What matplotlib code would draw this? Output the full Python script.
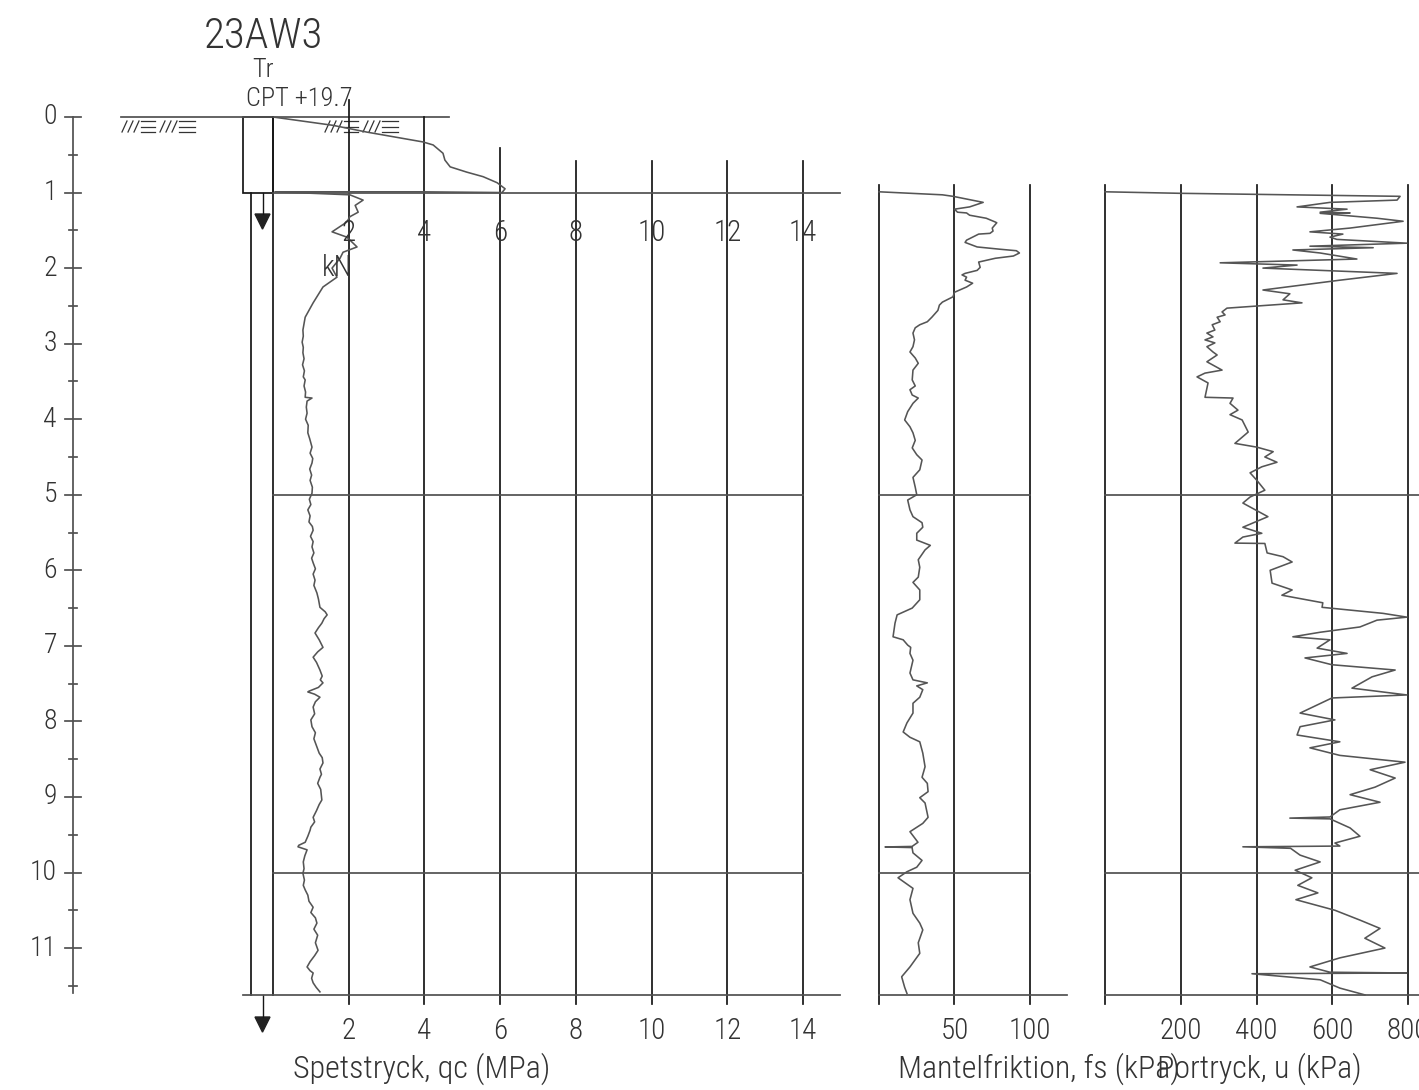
import matplotlib
matplotlib.use("Agg")
import matplotlib.pyplot as plt
from matplotlib import font_manager
from matplotlib.patches import Polygon, Rectangle

# ---------------- sounding data ----------------
title = "23AW3"
method_label = "Tr"
level_label = "CPT +19.7"

depth_ticks = list(range(0, 12))
qc_ticks = [2, 4, 6, 8, 10, 12, 14]
fs_ticks = [50, 100]
u_ticks = [200, 400, 600, 800]

# Cone resistance qc (MPa) versus depth (m)
qc_depth = [0.00, 0.11, 0.20, 0.33, 0.37, 0.48, 0.57, 0.66, 0.73, 0.79, 0.87, 0.95,
            1.00, 0.99, 0.99, 1.03, 1.10, 1.17, 1.26, 1.32, 1.39, 1.52, 1.59, 1.72,
            1.79, 1.87, 2.00, 2.12, 2.25, 2.46, 2.65,
            2.82, 2.90, 2.98, 3.05, 3.12, 3.20, 3.28, 3.36, 3.44, 3.48, 3.56, 3.64,
            3.71, 3.72, 3.76, 3.84, 3.92, 4.00, 4.08, 4.18, 4.26, 4.37, 4.45, 4.52,
            4.58, 4.66, 4.74, 4.81, 4.90, 4.98, 5.06, 5.13, 5.20, 5.28, 5.36, 5.42,
            5.47, 5.55, 5.62, 5.69, 5.77, 5.84, 5.90, 5.98, 6.05, 6.13, 6.20, 6.30,
            6.38, 6.49, 6.55, 6.59, 6.64, 6.70, 6.76, 6.83, 6.92, 7.02, 7.08, 7.15,
            7.22, 7.32, 7.40, 7.45, 7.49, 7.55, 7.60, 7.61, 7.64, 7.68, 7.74, 7.81,
            7.90, 7.98, 8.07, 8.15, 8.23, 8.34, 8.42, 8.48, 8.55, 8.63, 8.70, 8.74,
            8.82, 8.90, 9.04, 9.10, 9.18, 9.27, 9.33, 9.40, 9.44, 9.52, 9.60, 9.64,
            9.66, 9.70, 9.78, 9.86, 9.95, 10.01, 10.10, 10.17, 10.23, 10.30, 10.38,
            10.46, 10.53, 10.60, 10.67, 10.75, 10.83, 10.93, 11.03, 11.10, 11.18,
            11.25, 11.30, 11.33, 11.40, 11.46, 11.52, 11.58]
qc_mpa = [0.00, 1.58, 2.48, 3.96, 4.23, 4.49, 4.54, 4.68, 5.12, 5.55, 5.92, 6.13,
          6.05, 3.88, 0.05, 2.03, 2.38, 2.17, 2.25, 2.03, 1.95, 1.56, 1.95, 2.22,
          1.85, 1.77, 1.56, 1.69, 1.32, 1.06, 0.85,
          0.79, 0.80, 0.77, 0.80, 0.79, 0.82, 0.78, 0.83, 0.80, 0.85, 0.82, 0.86,
          0.85, 1.03, 0.90, 0.88, 0.90, 0.86, 0.93, 0.92, 0.97, 1.03, 0.98, 1.05,
          1.03, 0.97, 1.02, 0.98, 1.04, 1.03, 0.96, 1.00, 0.92, 0.98, 0.95, 1.04,
          1.06, 0.99, 1.06, 1.03, 1.08, 1.02, 1.06, 1.12, 1.06, 1.11, 1.08, 1.16,
          1.20, 1.24, 1.38, 1.43, 1.35, 1.29, 1.20, 1.11, 1.22, 1.32, 1.18, 1.06,
          1.15, 1.24, 1.30, 1.25, 1.32, 1.20, 0.95, 0.92, 1.10, 1.24, 1.12, 1.06,
          1.10, 1.00, 1.03, 1.12, 1.08, 1.16, 1.22, 1.30, 1.32, 1.24, 1.28, 1.24,
          1.18, 1.26, 1.29, 1.22, 1.15, 1.06, 1.10, 1.00, 0.98, 0.92, 0.85, 0.68,
          0.66, 0.90, 0.84, 0.80, 0.82, 0.79, 0.83, 0.80, 0.85, 0.92, 0.95,
          1.06, 1.00, 1.12, 1.16, 1.08, 1.18, 1.12, 1.19, 1.10, 0.98,
          0.90, 0.98, 1.06, 1.02, 1.06, 1.14, 1.24]

# Sleeve friction fs (kPa) versus depth (m)
fs_depth = [0.99, 1.03, 1.05, 1.13, 1.19, 1.22, 1.26, 1.27, 1.30, 1.34, 1.39, 1.40,
            1.47, 1.51, 1.54, 1.55, 1.63, 1.66, 1.72, 1.75, 1.77, 1.80, 1.84, 1.87,
            1.92, 1.99, 2.03, 2.07, 2.09, 2.12, 2.16, 2.20, 2.25, 2.32, 2.38, 2.45,
            2.49, 2.56, 2.65, 2.71, 2.75, 2.79, 2.86, 2.95, 3.04, 3.11, 3.19, 3.26,
            3.35, 3.48, 3.56, 3.61, 3.68, 3.72, 3.79, 3.90, 4.01, 4.10, 4.18, 4.28,
            4.38, 4.47, 4.54, 4.67, 4.77, 4.90, 5.00, 5.07, 5.20, 5.29, 5.37, 5.43,
            5.51, 5.60, 5.67, 5.73, 5.86, 5.96, 6.09, 6.16, 6.26, 6.39, 6.50, 6.59,
            6.70, 6.88, 6.92, 6.99, 7.02, 7.10, 7.19, 7.36, 7.45, 7.49, 7.53, 7.58,
            7.68, 7.76, 7.89, 8.02, 8.14, 8.21, 8.27, 8.42, 8.60, 8.74, 8.82, 8.93,
            9.01, 9.08, 9.27, 9.35, 9.46, 9.60, 9.655, 9.662, 9.67, 9.74, 9.84, 9.93,
            9.99, 10.07, 10.21, 10.36, 10.54, 10.67, 10.76, 10.93, 11.07, 11.25,
            11.38, 11.52, 11.60]
fs_kpa = [0.0, 42.0, 49.0, 69.0, 60.0, 50.0, 52.0, 58.0, 60.0, 71.0, 77.0, 78.0,
          75.0, 75.5, 73.5, 66.0, 58.0, 57.0, 65.0, 80.0, 91.0, 93.0, 89.0, 77.0,
          66.0, 67.0, 65.0, 57.0, 55.0, 58.0, 57.0, 62.0, 58.0, 50.0, 49.0, 42.0,
          40.0, 39.0, 35.0, 32.0, 27.0, 24.0, 22.5, 23.5, 22.5, 20.5, 24.0, 26.0,
          22.5, 22.0, 24.0, 20.5, 22.0, 26.0, 22.5, 19.0, 17.0, 20.5, 22.5, 24.0,
          22.0, 25.0, 28.5, 27.0, 22.5, 24.0, 25.0, 19.0, 20.5, 22.5, 28.5, 29.0,
          25.0, 25.0, 34.0, 30.5, 26.0, 27.0, 26.0, 22.5, 27.0, 27.0, 22.0, 12.0,
          10.6, 9.3, 16.0, 19.0, 21.0, 20.5, 22.5, 20.5, 22.5, 32.0, 25.0, 29.0,
          27.0, 22.5, 22.5, 18.5, 16.0, 20.5, 27.0, 29.0, 30.5, 28.5, 32.0, 32.5,
          27.0, 30.5, 32.5, 29.0, 20.5, 25.8, 21.9, 4.0, 21.9, 22.5, 28.5, 25.0,
          18.5, 12.6, 22.5, 20.5, 22.5, 27.0, 29.0, 26.0, 27.0, 20.5,
          15.0, 17.0, 18.5]

# Pore pressure u (kPa) versus depth (m)
u_depth = [0.99, 1.01, 1.05, 1.10, 1.13, 1.19, 1.22, 1.26, 1.27, 1.275, 1.34, 1.38,
           1.47, 1.52, 1.55, 1.59, 1.62, 1.67, 1.71, 1.73, 1.76, 1.80, 1.88, 1.93,
           1.96, 2.00, 2.07, 2.16, 2.29, 2.34, 2.42, 2.46,
           2.53, 2.58, 2.62, 2.65, 2.71, 2.75, 2.82, 2.86, 2.91, 2.95, 2.99, 3.04,
           3.11, 3.15, 3.24, 3.35, 3.39, 3.44, 3.52, 3.71, 3.72, 3.79, 3.88,
           3.94, 4.01, 4.17, 4.32, 4.37, 4.43, 4.50, 4.57, 4.63, 4.71, 4.81, 4.94,
           5.03, 5.11, 5.29, 5.43, 5.51, 5.56, 5.64, 5.645, 5.77, 5.82, 5.89, 6.00,
           6.17, 6.26, 6.33, 6.43, 6.49, 6.57, 6.62, 6.66, 6.75, 6.82, 6.88, 6.92,
           7.03, 7.10, 7.16, 7.25, 7.32, 7.41, 7.56, 7.65, 7.69, 7.89, 7.98, 8.07,
           8.18, 8.27, 8.35, 8.45, 8.54, 8.64, 8.75, 8.87, 8.97, 9.07, 9.17, 9.265,
           9.28, 9.29, 9.41, 9.52, 9.61, 9.65, 9.66, 9.68, 9.77, 9.86, 9.97, 10.07,
           10.17, 10.27, 10.36, 10.50, 10.63, 10.74, 10.87, 11.00, 11.13, 11.25,
           11.32, 11.33, 11.34, 11.42, 11.53, 11.62]
u_kpa = [0, 198, 779, 771, 594, 507, 639, 568, 647, 568, 718, 787,
         647, 541, 628, 594, 612, 797, 541, 708, 496, 568, 665, 304,
         507, 417, 771, 620, 417, 488, 470, 520,
         322, 309, 317, 296, 304, 283, 290, 269, 285, 264, 290, 269,
         285, 296, 269, 309, 264, 243, 272, 264, 338, 330, 351,
         330, 362, 378, 343, 401, 444, 422, 454, 414, 383, 401, 422,
         383, 364, 430, 364, 414, 364, 343, 422, 428, 470, 494, 436,
         441, 494, 467, 575, 573, 734, 797, 718, 673, 568, 496, 594,
         560, 639, 528, 599, 766, 705, 652, 797, 599, 515, 607, 515,
         507, 620, 541, 620, 792, 700, 766, 713, 647, 726, 620, 594,
         488, 594, 647, 673, 607, 620, 364, 490, 515, 568, 502, 546,
         509, 562, 504, 607, 673, 726, 686, 739, 620, 541,
         594, 797, 388, 568, 620, 686]

# ---------------- page geometry ----------------
W, H, DPI = 1419, 1090, 100
Y0 = 117.0          # pixel row of the ground surface (depth 0 m)
PX_PER_M = 75.55    # vertical scale
D_BOT = 11.62       # bottom of the log
D_TICK = 11.74      # lower end of the short scale ticks
D_PANEL_TOP = 0.90  # top of the fs and u panels


def depth_at(row):
    return (row - Y0) / PX_PER_M


names = {f.name for f in font_manager.fontManager.ttflist}
FONT = "DejaVu Sans"
for cand in ["Liberation Sans Narrow", "DejaVu Sans Condensed", "Roboto Condensed"]:
    if cand in names:
        FONT = cand
        break

GRID = "#161616"
HLINE = "#505050"
CURVE = "#555555"
TXT = "#333333"
LW_GRID = 1.25
LW_CURVE = 1.15

fig = plt.figure(figsize=(W / DPI, H / DPI), dpi=DPI)
fig.patch.set_facecolor("white")


def layer(x0_px, px_per_unit):
    ax = fig.add_axes([0, 0, 1, 1])
    ax.set_xlim(-x0_px / px_per_unit, (W - x0_px) / px_per_unit)
    ax.set_ylim(depth_at(H), depth_at(0))
    ax.axis("off")
    ax.patch.set_visible(False)
    return ax


def txt(ax, x, y, s, size, ha="center", va="center"):
    ax.text(x, y, s, fontsize=size, ha=ha, va=va, color=TXT, family=FONT,
            fontweight="light")


# ---------------- header, borehole symbol and depth ruler ----------------
base = layer(0, 1.0)

txt(base, 263, depth_at(36), title, 31)
txt(base, 263, depth_at(70), method_label, 19)
txt(base, 299, depth_at(99), level_label, 19)

# ground surface with soil hatch
base.plot([121, 449], [0, 0], color=HLINE, lw=LW_GRID)
for gx in (122, 325):
    for off in (0, 6, 12, 38, 44, 50):
        base.plot([gx + off, gx + off + 5], [depth_at(132), depth_at(121)],
                  color=TXT, lw=0.9)
    for off, wid in ((19, 14), (57, 16)):
        for row in (121, 126.5, 132):
            base.plot([gx + off, gx + off + wid], [depth_at(row)] * 2,
                      color=TXT, lw=0.9)

# borehole column
base.add_patch(Rectangle((243, 0), 30, 1.0, fill=False, edgecolor=GRID, lw=LW_GRID))
base.plot([251, 251], [1.0, D_BOT], color=GRID, lw=LW_GRID)
base.plot([273, 273], [0.0, D_BOT], color=GRID, lw=LW_GRID)
for d_start, d_tip in ((1.0, depth_at(214)), (D_BOT, depth_at(1017))):
    base.plot([262.5, 262.5], [d_start, d_tip], color=GRID, lw=1.0)
    base.add_patch(Polygon([(255, d_tip), (270, d_tip), (262.5, d_tip + 0.2)],
                           closed=True, facecolor="#222222", edgecolor="#222222"))

# depth ruler
base.plot([73, 73], [0, 11.6], color=HLINE, lw=LW_GRID)
for d in depth_ticks:
    base.plot([65, 81], [d, d], color=HLINE, lw=LW_GRID)
    txt(base, 57, d, str(d), 20, ha="right")
    base.plot([69, 77], [d + 0.5, d + 0.5], color=HLINE, lw=LW_GRID)

# ---------------- cone resistance panel ----------------
qa = layer(273, 37.86)
qc_grid_top = [-0.23, 0.0, 0.41, 0.58, 0.58, 0.58, 0.58]
for v, top in zip(qc_ticks, qc_grid_top):
    qa.plot([v, v], [top, D_TICK], color=GRID, lw=LW_GRID)
qa.plot([0, 14.98], [1.0, 1.0], color=HLINE, lw=LW_GRID)
for d in (5, 10):
    qa.plot([0, 14], [d, d], color=HLINE, lw=LW_GRID)
qa.plot([-0.79, 14.98], [D_BOT, D_BOT], color=HLINE, lw=LW_GRID)
qa.plot(qc_mpa, qc_depth, color=CURVE, lw=LW_CURVE)
for v in qc_ticks:
    txt(qa, v, 1.54, str(v), 21)
    txt(qa, v, 12.10, str(v), 21)
txt(qa, 2.1, 2.0, "kN", 21, ha="right")
txt(qa, 0.53, 12.60, "Spetstryck, qc (MPa)", 23, ha="left")

# ---------------- sleeve friction panel ----------------
fa = layer(879, 1.51)
for v in [0] + fs_ticks:
    fa.plot([v, v], [D_PANEL_TOP, D_TICK], color=GRID, lw=LW_GRID)
for d in (5, 10):
    fa.plot([0, 100], [d, d], color=HLINE, lw=LW_GRID)
fa.plot([0, 124.5], [D_BOT, D_BOT], color=HLINE, lw=LW_GRID)
fa.plot(fs_kpa, fs_depth, color=CURVE, lw=LW_CURVE)
for v in fs_ticks:
    txt(fa, v, 12.10, str(v), 21)
txt(fa, 12.6, 12.60, "Mantelfriktion, fs (kPa)", 23, ha="left")

# ---------------- pore pressure panel ----------------
ua = layer(1105, 0.3788)
for v in [0] + u_ticks:
    ua.plot([v, v], [D_PANEL_TOP, D_TICK], color=GRID, lw=LW_GRID)
for d in (5, 10, D_BOT):
    ua.plot([0, 900], [d, d], color=HLINE, lw=LW_GRID)
ua.plot(u_kpa, u_depth, color=CURVE, lw=LW_CURVE)
for v in u_ticks:
    txt(ua, v, 12.10, str(v), 21)
txt(ua, 678, 12.60, "Portryck, u (kPa)", 23, ha="right")

fig.savefig("out.png", dpi=DPI, facecolor="white")
